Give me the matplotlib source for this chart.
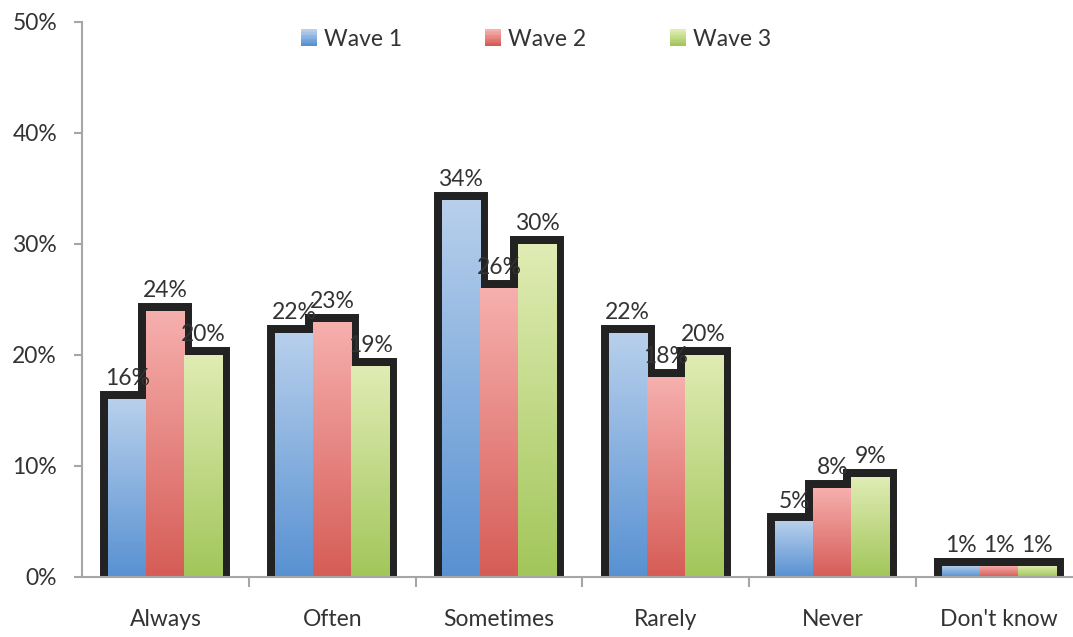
import numpy as np
import matplotlib
matplotlib.use("Agg")
import matplotlib.pyplot as plt
from matplotlib.colors import LinearSegmentedColormap
from matplotlib.patches import Rectangle
from matplotlib.legend_handler import HandlerBase
from matplotlib.ticker import FixedLocator, PercentFormatter

plt.rcParams['font.family'] = ['Lato', 'DejaVu Sans']

categories = ["Always", "Often", "Sometimes", "Rarely", "Never", "Don't know"]
waves = ["Wave 1", "Wave 2", "Wave 3"]
wave1 = [16, 22, 34, 22, 5, 1]
wave2 = [24, 23, 26, 18, 8, 1]
wave3 = [20, 19, 30, 20, 9, 1]

# gradient colours per series: (top, bottom)
grads = [("#b8d0ec", "#5891d2"),
         ("#f6b0ae", "#d65c56"),
         ("#e0ecb4", "#a2c65a")]

text_color = "#333333"
axis_color = "#a6a6a6"
fs = 16.5

fig = plt.figure(figsize=(10.73, 6.37), dpi=100)
# plot area runs slightly past the right edge of the canvas
ax = fig.add_axes([0.0765, 0.0942, 0.9324, 0.8713])

series = [wave1, wave2, wave3]
x = np.arange(len(categories))
bw = 0.228
grad = np.linspace(1, 0, 256).reshape(-1, 1)

for i, vals in enumerate(series):
    cmap = LinearSegmentedColormap.from_list(f"g{i}", [grads[i][1], grads[i][0]])
    offs = (i - 1) * bw
    for xi, v in zip(x, vals):
        x0 = xi + offs - bw / 2
        # thick black edge underneath, fills go on top so only the outer rim shows
        edge = Rectangle((x0, 0), bw, v, facecolor="#222222", edgecolor="#222222",
                         linewidth=11.5, joinstyle="miter", zorder=1)
        ax.add_patch(edge)
        clip = Rectangle((x0, 0), bw, v, facecolor="none", edgecolor="none")
        ax.add_patch(clip)
        im = ax.imshow(grad, extent=[x0, x0 + bw, 0, v], aspect="auto",
                       cmap=cmap, vmin=0, vmax=1, zorder=3, interpolation="bilinear")
        im.set_clip_path(clip)
        ax.text(xi + offs, v + 0.9, f"{v}%", ha="center", va="bottom",
                fontsize=fs, color=text_color, zorder=5)

ax.set_xlim(-0.5, len(categories) - 0.5)
ax.set_ylim(0, 50)

for s in ["top", "right"]:
    ax.spines[s].set_visible(False)
for s in ["left", "bottom"]:
    ax.spines[s].set_color(axis_color)
    ax.spines[s].set_linewidth(1.5)
    ax.spines[s].set_zorder(4)

ax.yaxis.set_major_locator(FixedLocator(range(0, 51, 10)))
ax.yaxis.set_major_formatter(PercentFormatter(decimals=0))
ax.tick_params(axis="y", length=6, width=1.5, color=axis_color, pad=12,
               labelsize=fs, labelcolor=text_color)

ax.xaxis.set_major_locator(FixedLocator(np.arange(0.5, len(categories) - 0.5, 1)))
ax.xaxis.set_major_formatter(plt.NullFormatter())
ax.xaxis.set_minor_locator(FixedLocator(x))
ax.set_xticklabels(categories, minor=True)
ax.tick_params(axis="x", which="major", length=7, width=1.5, color=axis_color)
ax.tick_params(axis="x", which="minor", length=0, pad=23,
               labelsize=fs, labelcolor=text_color)


class GradientHandler(HandlerBase):
    def __init__(self, top, bottom):
        super().__init__()
        self.cmap = LinearSegmentedColormap.from_list("h", [bottom, top])

    def create_artists(self, legend, orig_handle, xdescent, ydescent,
                       width, height, fontsize, trans):
        size = height * 1.0
        steps = 12
        arts = []
        for k in range(steps):
            r = Rectangle((width - size, -ydescent + size * k / steps), size, size / steps + 0.2,
                          facecolor=self.cmap(k / (steps - 1)), edgecolor="none",
                          transform=trans)
            arts.append(r)
        return arts


handles = [Rectangle((0, 0), 1, 1) for _ in waves]
leg = ax.legend(handles, waves, loc="upper center", bbox_to_anchor=(0.453, 1.025),
                ncol=3, frameon=False, fontsize=fs, labelcolor=text_color,
                handlelength=0.75, handletextpad=0.3, columnspacing=3.6,
                handler_map={h: GradientHandler(*g) for h, g in zip(handles, grads)})

fig.savefig("out.png", dpi=100)
